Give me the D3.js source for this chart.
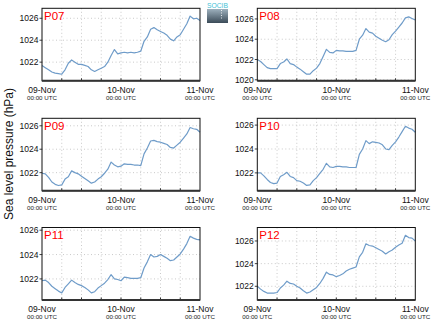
<!DOCTYPE html>
<html><head><meta charset="utf-8">
<script src="https://cdn.jsdelivr.net/npm/d3@7"></script>
<style>
body{margin:0;background:#fff}
svg{display:block;font-family:"Liberation Sans",Arial,Helvetica,sans-serif}
</style>
</head><body>
<svg id="chart" width="434" height="327"></svg>
<script>
// ---- data ----
const stations = ["P07","P08","P09","P10","P11","P12"];
const hours = [0,1,2,3,4,5,6,7,8,9,10,11,12,13,14,15,16,17,18,19,20,21,22,23,24,
               25,26,27,28,29,30,31,32,33,34,35,36,37,38,39,40,41,42,43,44,45,46,47,48];
const p07 = [1021.7,1021.5,1021.3,1021.1,1021.0,1020.95,1020.9,1021.3,1021.9,1022.2,1022.0,1021.8,1021.8,1021.7,1021.6,1021.3,1021.15,1021.3,1021.45,1021.6,1022.0,1022.6,1023.15,1022.75,1022.85,
             1022.9,1022.85,1022.9,1022.85,1022.9,1023.0,1023.9,1024.3,1025.0,1025.15,1024.95,1024.8,1024.65,1024.45,1024.1,1023.95,1024.3,1024.5,1025.0,1025.5,1026.2,1025.95,1026.0,1025.8];
const p08 = [1022.0,1021.8,1021.5,1021.2,1021.1,1021.1,1021.1,1021.6,1021.75,1022.05,1021.6,1021.5,1021.25,1021.05,1020.8,1020.55,1020.55,1020.9,1021.15,1021.6,1022.3,1023.0,1022.7,1022.65,1022.9,
             1022.85,1022.85,1022.8,1022.8,1022.8,1022.9,1024.0,1024.4,1025.05,1024.7,1024.6,1024.3,1024.1,1023.9,1023.75,1023.95,1024.45,1024.8,1025.2,1025.6,1026.1,1026.2,1026.05,1025.9];
const p09 = [1021.95,1021.9,1021.6,1021.2,1021.0,1020.9,1020.95,1021.45,1021.65,1022.15,1022.0,1021.9,1021.7,1021.5,1021.3,1021.1,1021.2,1021.45,1021.65,1021.95,1022.3,1022.9,1022.65,1022.5,1022.55,
             1022.75,1022.7,1022.7,1022.65,1022.65,1022.6,1023.6,1024.1,1024.7,1024.75,1024.65,1024.6,1024.5,1024.4,1024.15,1024.1,1024.35,1024.6,1024.95,1025.3,1025.85,1025.75,1025.7,1025.45];
const p10 = [1022.0,1022.0,1021.75,1021.45,1021.2,1021.1,1021.15,1021.7,1021.85,1022.05,1021.7,1021.6,1021.35,1021.3,1021.15,1020.95,1021.0,1021.35,1021.6,1021.95,1022.3,1022.8,1022.5,1022.45,1022.55,
             1022.55,1022.5,1022.5,1022.45,1022.45,1022.45,1023.55,1024.0,1024.7,1024.45,1024.6,1024.55,1024.5,1024.35,1024.0,1023.95,1024.3,1024.6,1025.0,1025.45,1025.9,1025.75,1025.65,1025.4];
const p11 = [1021.85,1021.9,1021.7,1021.4,1021.2,1021.0,1020.85,1021.3,1021.6,1021.9,1021.7,1021.55,1021.45,1021.3,1021.1,1020.85,1020.95,1021.25,1021.45,1021.65,1021.95,1022.35,1022.0,1021.95,1021.85,
             1022.15,1022.1,1022.05,1022.05,1022.05,1022.1,1022.9,1023.4,1024.0,1023.8,1023.85,1024.0,1023.85,1023.7,1023.5,1023.55,1023.8,1024.05,1024.45,1024.9,1025.5,1025.35,1025.25,1025.2];
const p12 = [1022.0,1021.75,1021.55,1021.4,1021.4,1021.4,1021.45,1021.85,1022.1,1022.45,1022.25,1022.2,1022.0,1021.85,1021.6,1021.4,1021.5,1021.7,1021.9,1022.25,1022.7,1023.25,1023.05,1023.0,1022.85,
             1022.95,1023.1,1023.35,1023.5,1023.6,1023.7,1024.6,1025.0,1025.75,1025.6,1025.55,1025.4,1025.25,1025.1,1024.85,1025.05,1025.2,1025.45,1025.65,1025.8,1026.5,1026.3,1026.25,1026.0];
const seriesValues = [p07,p08,p09,p10,p11,p12];
const yDomains = [[1020.3,1026.91],[1019.9,1027.05],[1020.45,1026.64],[1020.5,1026.57],[1020.27,1026.22],[1020.79,1027.19]];
const startTime = "2013-11-09T00:00:00Z";
const xTickLabels = ["2013-11-09T00:00:00Z","2013-11-10T00:00:00Z","2013-11-11T00:00:00Z"];
const yTickStep = 2;
const yTitle = "Sea level pressure (hPa)";

// ---- layout ----
const svg = d3.select("#chart");
const colX = [42, 257.3], plotW = 158;
const rowY = [8.3, 118.3, 227.5], plotH = 72.5;
const t0 = new Date(startTime);
const times = hours.map(h => new Date(t0.getTime() + h*3600e3));
const xDomain = [new Date(xTickLabels[0]), new Date(xTickLabels[2])];
const fmtDate = d3.utcFormat("%d-%b");
const fmtTime = d3.utcFormat("%H:%M UTC");

// logo
const logo = svg.append("g");
const grad = svg.append("defs").append("linearGradient").attr("id","lg").attr("x1",0).attr("y1",0).attr("x2",0).attr("y2",1);
grad.append("stop").attr("offset","0%").attr("stop-color","#9db0bd");
grad.append("stop").attr("offset","100%").attr("stop-color","#3b4b58");
logo.append("rect").attr("x",207).attr("y",9).attr("width",21).attr("height",14).attr("fill","url(#lg)");
logo.append("line").attr("x1",221.5).attr("x2",221.5).attr("y1",10).attr("y2",19)
  .attr("stroke","#fff").attr("stroke-width",0.8).attr("stroke-dasharray","1,1.5");
logo.append("text").attr("x",207).attr("y",8.4)
  .attr("font-size",7.2).attr("fill","#3fc1d6").attr("textLength",21).attr("lengthAdjust","spacingAndGlyphs").text("SOCIB");

stations.forEach((name, i) => {
  const x0 = colX[i % 2], y0 = rowY[Math.floor(i / 2)];
  const x = d3.scaleUtc().domain(xDomain).range([x0, x0 + plotW]);
  const y = d3.scaleLinear().domain(yDomains[i]).range([y0 + plotH, y0]);
  const g = svg.append("g");
  const yTicks = d3.range(Math.ceil(yDomains[i][0] / yTickStep) * yTickStep, yDomains[i][1], yTickStep);
  const xGrid = d3.utcHour.every(6).range(xDomain[0], xDomain[1]).slice(1);

  // grid
  g.selectAll(".hg").data(yTicks).join("line")
    .attr("x1", x0).attr("x2", x0 + plotW).attr("y1", d => y(d)).attr("y2", d => y(d))
    .attr("stroke", "#bdbdbd").attr("stroke-width", 0.8).attr("stroke-dasharray", "1,2.5");
  g.selectAll(".vg").data(xGrid).join("line")
    .attr("x1", d => x(d)).attr("x2", d => x(d)).attr("y1", y0).attr("y2", y0 + plotH)
    .attr("stroke", "#bdbdbd").attr("stroke-width", 0.8).attr("stroke-dasharray", "1,2.5");

  // series line
  const vals = seriesValues[i];
  g.append("path").datum(times.map((t, k) => [t, vals[k]]))
    .attr("fill", "none").attr("stroke", "#6f9cc9").attr("stroke-width", 1.2)
    .attr("stroke-linejoin", "round")
    .attr("d", d3.line().x(d => x(d[0])).y(d => y(d[1])));

  // frame
  g.append("rect").attr("x", x0).attr("y", y0).attr("width", plotW).attr("height", plotH)
    .attr("fill", "none").attr("stroke", "#111").attr("stroke-width", 1);
  g.append("line").attr("x1", x0).attr("x2", x0 + plotW).attr("y1", y0 + plotH).attr("y2", y0 + plotH)
    .attr("stroke", "#333").attr("stroke-width", 2);
  g.selectAll(".xt").data(xGrid).join("line")
    .attr("x1", d => x(d)).attr("x2", d => x(d)).attr("y1", y0 + plotH).attr("y2", y0 + plotH - 2.5)
    .attr("stroke", "#333").attr("stroke-width", 1);

  // y ticks
  g.selectAll(".yt").data(yTicks).join("line")
    .attr("x1", x0 - 2.5).attr("x2", x0).attr("y1", d => y(d)).attr("y2", d => y(d))
    .attr("stroke", "#111").attr("stroke-width", 0.8);
  g.selectAll(".yl").data(yTicks).join("text")
    .attr("x", x0 - 3.5).attr("y", d => y(d)).attr("dy", "0.36em")
    .attr("text-anchor", "end").attr("font-size", 8.5).attr("fill", "#111").text(d => d);

  // x labels
  const xt = xTickLabels.map(s => new Date(s));
  g.selectAll(".xl").data(xt).join("text")
    .attr("x", d => x(d)).attr("y", y0 + plotH + 11.8)
    .attr("text-anchor", "middle").attr("font-size", 8.5).attr("fill", "#111").text(fmtDate);
  g.selectAll(".xl2").data(xt).join("text")
    .attr("x", d => x(d)).attr("y", y0 + plotH + 19.2)
    .attr("text-anchor", "middle").attr("font-size", 6.2).attr("fill", "#222").text(fmtTime);

  // station label
  g.append("text").attr("x", x0 + 2).attr("y", y0 + 11.2)
    .attr("font-size", 11.5).attr("fill", "#ff0000").text(name);
});

svg.append("text").attr("transform", "translate(13.3,154) rotate(-90)")
  .attr("text-anchor", "middle").attr("font-size", 12).attr("fill", "#111").text(yTitle);
</script>
</body></html>
